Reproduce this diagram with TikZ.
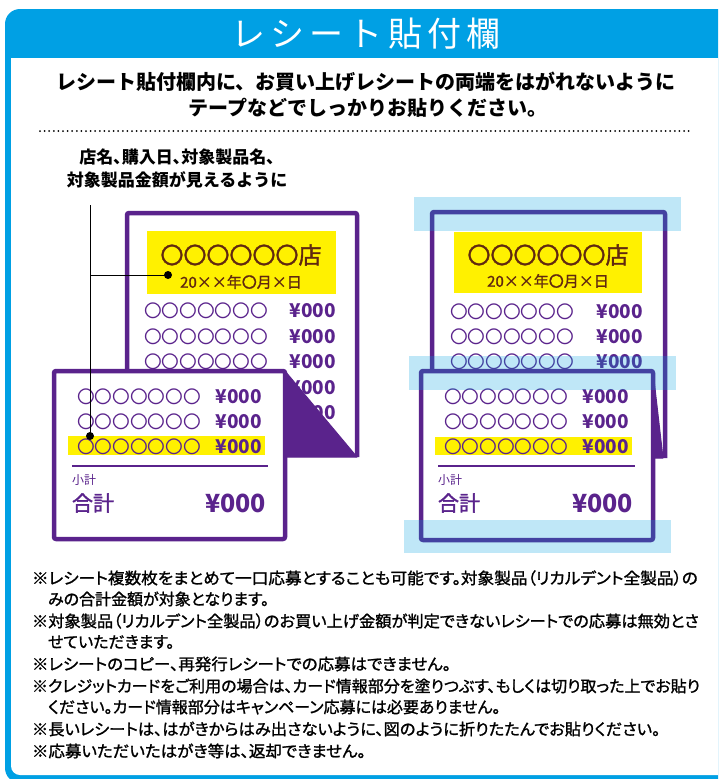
\documentclass[tikz,border=0pt]{standalone}
\usepackage{fontspec}
\newfontfamily\jp{Noto Sans CJK JP}
\newfontfamily\jpp[RawFeature=+palt]{Noto Sans CJK JP}
\newfontfamily\jpt[LetterSpace=15]{Noto Sans CJK JP}
\newfontfamily\jpm[RawFeature=+palt,FakeBold=1.3]{Noto Sans CJK JP}
\newfontfamily\jpn[FakeBold=1.6]{Noto Sans CJK JP}
\newcommand\fsz[1]{\fontsize{#1}{#1}\selectfont}
\newcommand\nt[2]{\scalebox{#1}[1]{#2}}
\definecolor{fblue}{RGB}{0,160,228}
\definecolor{rpurple}{RGB}{90,35,140}
\definecolor{ryellow}{RGB}{255,241,0}
\definecolor{rbrown}{RGB}{96,40,16}
\definecolor{tapeblue}{RGB}{0,160,225}
\tikzset{
  txt/.style={inner sep=0pt, outer sep=0pt},
  rcpt/.style={draw=rpurple, line width=4.5pt, line join=round, rounded corners=2pt},
  circrow/.style={txt, anchor=west, text=rpurple, font=\jp\fsz{17.7}},
  yenrow/.style={txt, anchor=east, text=rpurple, font=\jp\bfseries\fsz{19}},
  storetxt/.style={txt, text=rbrown, font=\jpn\fsz{23}},
  datetxt/.style={txt, text=rbrown, font=\jpm\fsz{15}},
  small/.style={txt, anchor=west, text=rpurple, font=\jp\fsz{12}},
  total/.style={txt, anchor=west, text=rpurple, font=\jpn\fsz{21}},
  totalyen/.style={txt, anchor=east, text=rpurple, font=\jp\bfseries\fsz{25}},
  sep/.style={draw=rpurple, line width=1.5pt},
  hl/.style={fill=ryellow},
  fold/.style={fill=rpurple, draw=rpurple, line width=1pt, line join=round},
  tape/.style={fill=tapeblue, fill opacity=0.25},
  conn/.style={draw=black, line width=1pt},
  dot/.style={circle, fill=black, inner sep=0pt, minimum size=8pt},
  note/.style={txt, anchor=west, font=\jpm\fsz{16}},
  lead/.style={txt, font=\jp\bfseries\fsz{20}},
  lbl/.style={txt, font=\jp\bfseries\fsz{17}},
}
\newcommand\rrow[4]{%
  \node[circrow] (#1c) at (#2,#4) {〇〇〇〇〇〇〇};
  \node[yenrow] (#1y) at (#3,#4) {¥000};}
\begin{document}
\begin{tikzpicture}[x=1pt,y=-1pt]
\useasboundingbox (0,0) rectangle (718,779);
\clip (0,0) rectangle (718,779);
% frame
\fill[fblue, rounded corners=15pt] (5,9) rectangle (732,783);
\fill[white] (11,58) -- (726,58) -- (726,775) [rounded corners=9pt]-- (11,775) [sharp corners]-- cycle;
\node[txt, text=white, font=\jpt\fsz{34}] (title) at (366,34) {レシート貼付欄};
% instructions
\node[lead] (ins1) at (366,82) {レシート貼付欄内に、お買い上げレシートの両端をはがれないように};
\node[lead] (ins2) at (368,108) {テープなどでしっかりお貼りください。};
\coordinate (dl) at (40,131);
\coordinate (dr) at (690,131);
\draw[line width=2pt, line cap=round, dash pattern=on 0pt off 4.6pt] (dl) -- (dr);
% label
\node[txt, font=\jpp\bfseries\fsz{17}] (lab1) at (177,157) {店名、購入日、対象製品名、};
\node[lbl] (lab2) at (177,180) {対象製品金額が見えるように};

% ===== left illustration =====
\draw[rcpt] (127,371) -- (127,213) -- (357,213) -- (357,457);
\fill[hl] (147,231) rectangle (336,294);
\node[storetxt] (ls) at (241,255) {〇〇〇〇〇〇店};
\node[datetxt] (ld) at (241,282) {20××年〇月×日};
\rrow{lb1}{144}{336}{311}
\rrow{lb2}{144}{336}{337}
\rrow{lb3}{144}{336}{362}
\rrow{lb4}{144}{336}{388}
\rrow{lb5}{144}{336}{413}
\filldraw[rcpt, fill=white] (54,371) rectangle (285,539);
\filldraw[fold] (285,371) -- (357,457) -- (285,457) -- cycle;
\fill[hl] (68,436) rectangle (265,455);
\rrow{lf1}{77}{262}{397}
\rrow{lf2}{77}{262}{422}
\rrow{lf3}{77}{262}{447}
\draw[sep] (72,466) -- (268,466);
\node[small] (lsub) at (72,480) {小計};
\node[total] (ltot) at (72,503) {合計};
\node[totalyen] (ltoty) at (266,503) {¥000};
% connector
\coordinate (ctop) at (90,205);
\coordinate (cj) at (90,275);
\node[dot] (d1) at (168,275) {};
\node[dot] (d2) at (90,436) {};
\draw[conn] (ctop) -- (d2.center);
\draw[conn] (cj) -- (d1.center);

% ===== right illustration =====
\draw[rcpt] (432,371) -- (432,212) -- (665,212) -- (665,458);
\fill[hl] (454,232) rectangle (642,293);
\node[storetxt] (rs) at (548,255) {〇〇〇〇〇〇店};
\node[datetxt] (rd) at (548,281) {20××年〇月×日};
\rrow{rb1}{450}{643}{312}
\rrow{rb2}{450}{643}{337}
\rrow{rb3}{450}{643}{362}
\filldraw[rcpt, fill=white] (421,371) rectangle (653,540);
\filldraw[fold] (653,371) -- (663,458) -- (653,458) -- cycle;
\fill[hl] (435,437) rectangle (632,455);
\rrow{rf1}{444}{629}{397}
\rrow{rf2}{444}{629}{422}
\rrow{rf3}{444}{629}{447}
\draw[sep] (438,466) -- (635,466);
\node[small] (rsub) at (438,480) {小計};
\node[total] (rtot) at (438,503) {合計};
\node[totalyen] (rtoty) at (633,503) {¥000};
\fill[tape] (414,197) rectangle (681,231);
\fill[tape] (409,356) rectangle (676,390);
\fill[tape] (404,520) rectangle (671,553);

% ===== notes =====
\node[note] (n1) at (32,578) {\nt{1.04}{※レシート複数枚をまとめて一口応募とすることも可能です。対象製品（リカルデント全製品）の}};
\node[note] (n2) at (48,599) {みの合計金額が対象となります。};
\node[note] (n3) at (32,621) {\nt{1.015}{※対象製品（リカルデント全製品）のお買い上げ金額が判定できないレシートでの応募は無効とさ}};
\node[note] (n4) at (48,642) {せていただきます。};
\node[note] (n5) at (32,664) {\nt{1.03}{※レシートのコピー、再発行レシートでの応募はできません。}};
\node[note] (n6) at (32,686) {※クレジットカードをご利用の場合は、カード情報部分を塗りつぶす、もしくは切り取った上でお貼り};
\node[note] (n7) at (48,707) {ください。カード情報部分はキャンペーン応募には必要ありません。};
\node[note] (n8) at (32,729) {\nt{1.017}{※長いレシートは、はがきからはみ出さないように、図のように折りたたんでお貼りください。}};
\node[note] (n9) at (32,751) {\nt{1.03}{※応募いただいたはがき等は、返却できません。}};
\end{tikzpicture}
\end{document}
